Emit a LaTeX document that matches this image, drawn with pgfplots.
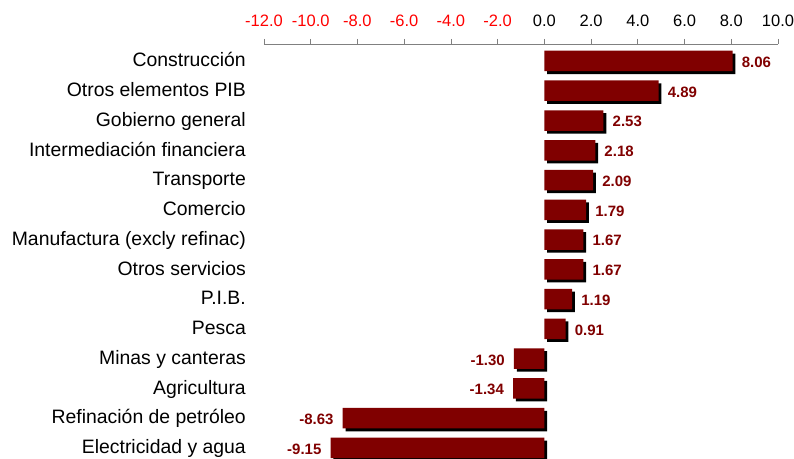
\documentclass[border=0pt]{standalone}
\usepackage{fontspec}
\setmainfont{Liberation Sans}
\usepackage{pgfplots}
\pgfplotsset{compat=1.18}
\definecolor{barred}{HTML}{800000}
\definecolor{axgray}{HTML}{808080}
\pgfplotstableread{
y x
13 8.06
12 4.89
11 2.53
10 2.18
9 2.09
8 1.79
7 1.67
6 1.67
5 1.19
4 0.91
3 -1.30
2 -1.34
1 -8.63
0 -9.15
}\datatable
\begin{document}
\begin{tikzpicture}
\useasboundingbox (-264bp,0) rectangle (530bp,459bp);
\begin{axis}[
  at={(0,0)}, anchor=south west,
  scale only axis, width=514bp, height=415bp,
  xmin=-12, xmax=10,
  ymin=-0.37, ymax=13.57,
  clip=false,
  axis x line*=top, axis y line*=left,
  y axis line style={draw=none},
  x axis line style={draw=axgray, line width=0.8bp, -},
  xtick={-12,-10,...,10},
  xticklabels={\textcolor{red}{-12.0},\textcolor{red}{-10.0},\textcolor{red}{-8.0},\textcolor{red}{-6.0},\textcolor{red}{-4.0},\textcolor{red}{-2.0},0.0,2.0,4.0,6.0,8.0,10.0},
  xtick style={draw=axgray, line width=0.8bp},
  tick align=outside,
  major tick length=5bp,
  xticklabel style={font=\fontsize{16.5bp}{19bp}\selectfont, inner sep=0pt, yshift=12bp},
  ytick={0,...,13},
  yticklabels={Electricidad y agua, Refinación de petróleo, Agricultura, Minas y canteras, Pesca, P.I.B., Otros servicios, Manufactura (excly refinac), Comercio, Transporte, Intermediación financiera, Gobierno general, Otros elementos PIB, Construcción},
  ytick style={draw=none},
  yticklabel style={font=\fontsize{19.4bp}{22bp}\selectfont, inner sep=0pt, anchor=east, xshift=-13bp, text height=14bp, text depth=2.5bp},
  /pgf/number format/assume math mode=true,
]
\addplot[xbar, bar width=20.5bp, fill=black, draw=none, xshift=2.8bp, yshift=-2.8bp] table[x=x,y=y]{\datatable};
\addplot[xbar, bar width=20.5bp, fill=barred, draw=none,
  point meta=x,
  nodes near coords={\pgfmathprintnumber[fixed,fixed zerofill,precision=2]{\pgfplotspointmeta}},
  nodes near coords align={horizontal},
  every node near coord/.append style={font=\bfseries\fontsize{15bp}{17bp}\selectfont, text=barred, inner xsep=9bp, inner ysep=0pt, yshift=-1.2bp}
] table[x=x,y=y]{\datatable};
\end{axis}
\end{tikzpicture}
\end{document}
